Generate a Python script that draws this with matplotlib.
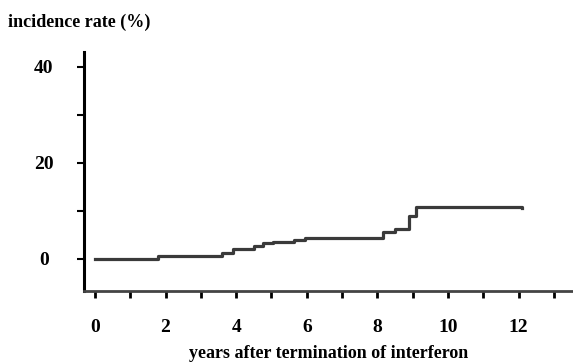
import matplotlib.pyplot as plt
import numpy as np

# step points (years, incidence %)
years = [0, 1.8, 3.6, 3.9, 4.5, 4.75, 5.05, 5.65, 5.95, 8.15, 8.5, 8.9, 9.1, 12.1]
rate = [0, 0.6, 1.2, 2.0, 2.6, 3.2, 3.5, 3.9, 4.4, 5.6, 6.2, 9.0, 10.8, 10.6]

xticks = np.arange(0, 14, 1)
xtick_labels = ['0', '', '2', '', '4', '', '6', '', '8', '', '10', '', '12', '']
yticks = [0, 10, 20, 30, 40]
ytick_labels = ['0', '', '20', '', '40']

serif = 'Liberation Serif'

fig = plt.figure(figsize=(5.73, 3.62), dpi=100)
ax = fig.add_axes([0.1466, 0.196, 0.8534, 0.66])

ax.step(years, rate, where='post', color='#3a3a3a', linewidth=2.3)

ax.set_xlim(-0.31, 13.54)
ax.set_ylim(-6.7, 43)

ax.spines['top'].set_visible(False)
ax.spines['right'].set_visible(False)
ax.spines['left'].set_linewidth(2.2)
ax.spines['bottom'].set_linewidth(2.0)
ax.spines['bottom'].set_color('#444444')

ax.set_xticks(xticks)
ax.set_xticklabels(xtick_labels, fontfamily=serif, fontweight='bold', fontsize=14)
ax.set_yticks(yticks)
ax.set_yticklabels(ytick_labels, fontfamily=serif, fontweight='bold', fontsize=14, ha='center')
ax.tick_params(axis='x', length=5, width=2, pad=15)
ax.tick_params(axis='y', length=5, width=1.5, pad=24)

fig.text(0.014, 0.925, 'incidence rate (%)', fontfamily=serif, fontweight='bold', fontsize=13)
fig.text(0.573, 0.012, 'years after termination of interferon', fontfamily=serif,
         fontweight='bold', fontsize=13, ha='center')

fig.savefig('out.png', dpi=100)
